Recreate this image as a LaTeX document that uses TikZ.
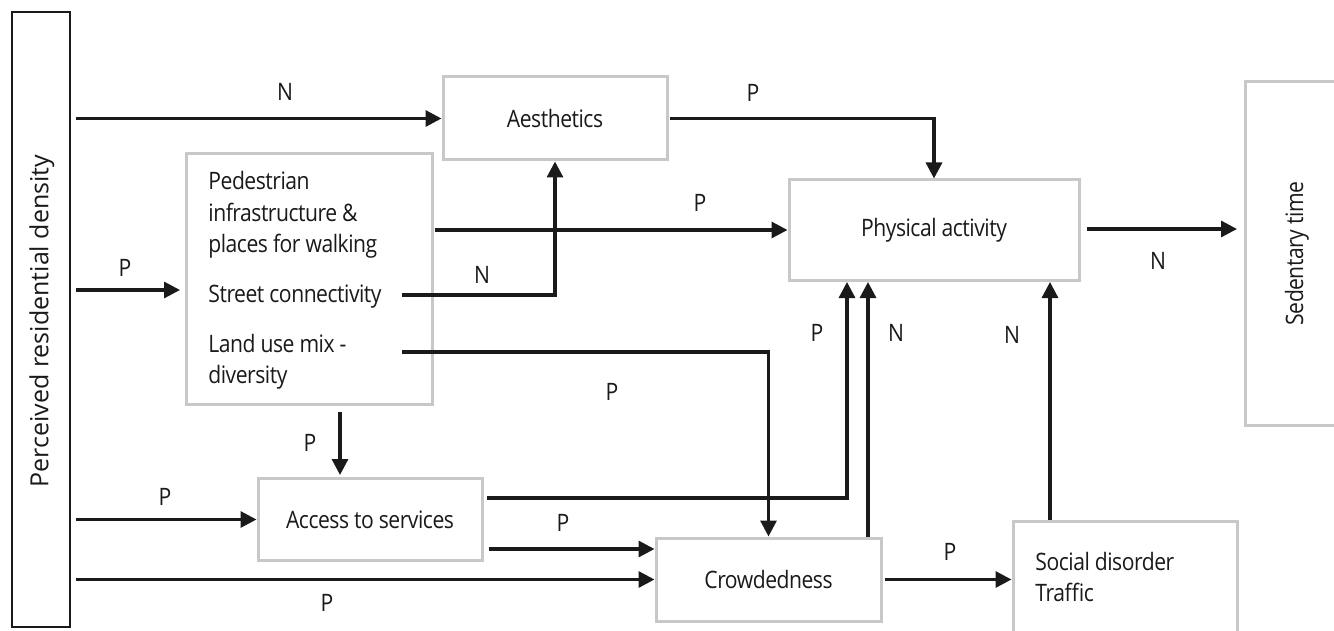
\documentclass[tikz,border=0pt]{standalone}
\usepackage{fontspec}
\setmainfont{Open Sans}
\newfontfamily\cfont[FakeStretch=0.88,LetterSpace=-2]{Open Sans}
\usetikzlibrary{arrows.meta}
\definecolor{boxgray}{HTML}{C8C8C8}
\definecolor{ink}{HTML}{1A1A1A}
\begin{document}
\begin{tikzpicture}[x=0.5pt,y=-0.5pt,
  font=\cfont\fontsize{12pt}{14pt}\selectfont,
  gbox/.style={draw=boxgray,line width=1.5pt,inner sep=0pt,text=ink},
  kbox/.style={draw=ink,line width=1.1pt,inner sep=0pt},
  conn/.style={draw=ink,line width=1.6pt,-{Triangle[length=8pt,width=8pt]}},
  sign/.style={inner sep=0pt,text=ink},
  item/.style={anchor=base west,inner sep=0pt,text=ink}]
\clip (0,0) rectangle (1334,631);
\fill[white] (0,0) rectangle (1334,631);

% boxes
\node[kbox,minimum width=29pt,minimum height=307.5pt] (prd) at (41,319.5) {};
\node[sign,rotate=90,font=\rmfamily\fontsize{12.5pt}{15pt}\selectfont] (prdt) at (42,321) {Perceived residential density};
\node[gbox,minimum width=112pt,minimum height=41.5pt] (aes) at (555,118.5) {Aesthetics};
\node[gbox,minimum width=123pt,minimum height=125pt] (ped) at (309,279) {};
\node[gbox,minimum width=145pt,minimum height=50pt] (pa) at (934,230) {Physical activity};
\node[gbox,minimum width=50pt,minimum height=171.5pt] (sed) at (1295,253.5) {};
\node[sign,rotate=90] (sedt) at (1297,253.5) {Sedentary time};
\node[gbox,minimum width=112pt,minimum height=41pt] (acc) at (370,519.5) {Access to services};
\node[gbox,minimum width=112.5pt,minimum height=41.5pt] (crowd) at (768.5,579.5) {Crowdedness};
\node[gbox,minimum width=112pt,minimum height=59.5pt] (soc) at (1125,580.5) {};

% texts inside boxes
\node[item] (p1) at (208,190) {Pedestrian};
\node[item] (p2) at (208,221) {infrastructure \&};
\node[item] (p3) at (208,252) {places for walking};
\node[item] (st) at (208,302) {Street connectivity};
\node[item] (lu) at (208,352) {Land use mix -};
\node[item] (lu2) at (208,383) {diversity};
\node[item] (s1) at (1035,570) {Social disorder};
\node[item] (s2) at (1035,601) {Traffic};

% helper coordinates
\coordinate (pedin) at (186,290);
\coordinate (stout) at (402,295);
\coordinate (luout) at (402,352);
\coordinate (accin) at (340,478);
\coordinate (acc1) at (482,498);
\coordinate (pa1) at (847,280);
\coordinate (acc2) at (482,549);
\coordinate (pa2) at (868,280);
\coordinate (pa3) at (1050,280);
\coordinate (sedin) at (1245,229);

% connectors
\draw[conn,shorten <=2.5pt] (prd.east |- aes.west) -- (aes.west);
\draw[conn,shorten <=2.5pt,shorten >=3pt] (prd.east |- pedin) -- (pedin);
\draw[conn,shorten <=2.5pt] (prd.east |- acc.west) -- (acc.west);
\draw[conn,shorten <=2.5pt] (prd.east |- crowd.west) -- (crowd.west);
\draw[conn,shorten <=0.5pt] (aes.east) -- (aes.east -| pa.north) -- (pa.north);
\draw[conn,shorten <=0.5pt] (ped.east |- pa.west) -- (pa.west);
\draw[conn] (stout) -- (stout -| aes.south) -- (aes.south);
\draw[conn] (luout) -- (luout -| crowd.north) -- (crowd.north);
\draw[conn,shorten <=3pt,shorten >=1.5pt] (ped.south -| accin) -- (accin);
\draw[conn,shorten <=1.5pt,shorten >=1pt] (acc.east |- acc1) -- (acc1 -| pa1) -- (pa1);
\draw[conn,shorten <=2.5pt] (acc.east |- acc2) -- (crowd.west |- acc2);
\draw[conn,shorten >=1pt] (crowd.north -| pa2) -- (pa2);
\draw[conn,shorten <=3pt,shorten >=4pt] (pa.east |- sedin) -- (sedin);
\draw[conn,shorten <=1pt] (crowd.east) -- (soc.west |- crowd.east);
\draw[conn,shorten >=1pt] (soc.north -| pa3) -- (pa3);

% signs
\node[sign] (l1) at (285,92) {N};
\node[sign] (l2) at (125,268) {P};
\node[sign] (l3) at (165,497) {P};
\node[sign] (l4) at (327,603) {P};
\node[sign] (l5) at (753,93) {P};
\node[sign] (l6) at (700,203) {P};
\node[sign] (l7) at (482,275) {N};
\node[sign] (l8) at (612,392) {P};
\node[sign] (l9) at (310,443) {P};
\node[sign] (l10) at (817,333) {P};
\node[sign] (l11) at (563,523) {P};
\node[sign] (l12) at (896,333) {N};
\node[sign] (l13) at (1158,261) {N};
\node[sign] (l14) at (950,552) {P};
\node[sign] (l15) at (1012,335) {N};
\end{tikzpicture}
\end{document}
